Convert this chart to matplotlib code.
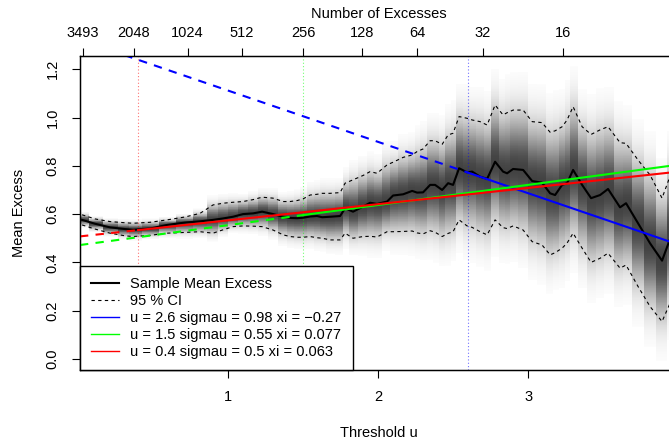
import numpy as np
import matplotlib
matplotlib.use('Agg')
import matplotlib.pyplot as plt
from matplotlib.lines import Line2D

plt.rcParams['font.family'] = ['Liberation Sans', 'DejaVu Sans']
plt.rcParams['font.size'] = 10.5

# thresholds u and the sample mean excess with its 95 % CI
u = [0.027, 0.113, 0.213, 0.313, 0.367, 0.48, 0.593, 0.713, 0.813, 0.9,
     0.967, 1.033, 1.1, 1.167, 1.227, 1.3, 1.367, 1.413, 1.46, 1.5,
     1.547, 1.593, 1.627, 1.68, 1.747, 1.78, 1.833, 1.9, 1.947, 1.993,
     2.06, 2.1, 2.167, 2.227, 2.26, 2.3, 2.347, 2.38, 2.427, 2.467,
     2.5, 2.54, 2.593, 2.627, 2.68, 2.727, 2.78, 2.833, 2.86, 2.9,
     2.967, 3.027, 3.093, 3.147, 3.18, 3.227, 3.26, 3.3, 3.36, 3.42,
     3.48, 3.533, 3.613, 3.653, 3.733, 3.813, 3.893, 3.96]
mean_excess = [0.576, 0.560, 0.545, 0.538, 0.535, 0.540, 0.555, 0.565, 0.570, 0.576,
               0.582, 0.589, 0.600, 0.603, 0.610, 0.600, 0.589, 0.584, 0.583, 0.585,
               0.590, 0.592, 0.587, 0.589, 0.592, 0.624, 0.610, 0.631, 0.647, 0.642,
               0.652, 0.677, 0.682, 0.696, 0.689, 0.690, 0.721, 0.721, 0.700, 0.728,
               0.721, 0.790, 0.773, 0.776, 0.755, 0.746, 0.817, 0.776, 0.769, 0.787,
               0.783, 0.737, 0.730, 0.686, 0.679, 0.721, 0.728, 0.783, 0.721, 0.666,
               0.679, 0.704, 0.628, 0.645, 0.562, 0.479, 0.407, 0.52]
ci_upper = [0.597, 0.580, 0.569, 0.564, 0.562, 0.566, 0.576, 0.588, 0.603, 0.638,
            0.645, 0.649, 0.652, 0.660, 0.670, 0.666, 0.652, 0.652, 0.656, 0.663,
            0.679, 0.682, 0.686, 0.686, 0.689, 0.728, 0.742, 0.760, 0.776, 0.769,
            0.804, 0.815, 0.835, 0.845, 0.859, 0.870, 0.904, 0.904, 0.889, 0.928,
            0.935, 1.004, 0.997, 0.990, 0.983, 0.969, 1.052, 1.011, 1.020, 1.031,
            1.031, 0.983, 0.979, 0.939, 0.945, 0.962, 0.990, 1.045, 0.962, 0.930,
            0.949, 0.962, 0.896, 0.893, 0.824, 0.762, 0.666, 0.78]
ci_lower = [0.555, 0.538, 0.521, 0.510, 0.507, 0.512, 0.521, 0.524, 0.527, 0.521,
            0.535, 0.548, 0.551, 0.550, 0.548, 0.534, 0.514, 0.507, 0.504, 0.504,
            0.507, 0.502, 0.500, 0.493, 0.493, 0.521, 0.500, 0.507, 0.508, 0.505,
            0.527, 0.527, 0.528, 0.530, 0.522, 0.518, 0.531, 0.525, 0.507, 0.520,
            0.527, 0.576, 0.551, 0.545, 0.527, 0.514, 0.576, 0.544, 0.540, 0.551,
            0.534, 0.486, 0.472, 0.431, 0.440, 0.459, 0.480, 0.521, 0.459, 0.400,
            0.417, 0.438, 0.376, 0.389, 0.300, 0.217, 0.155, 0.25]

# fitted GPD models: threshold, scale, shape
fit_u = [2.6, 1.5, 0.4]
fit_sigma = [0.98, 0.55, 0.5]
fit_xi = [-0.27, 0.077, 0.063]
fit_labels = ['u = 2.6 sigmau = 0.98 xi = \u22120.27',
              'u = 1.5 sigmau = 0.55 xi = 0.077',
              'u = 0.4 sigmau = 0.5 xi = 0.063']
fit_colors = ['#0000ff', '#00ff00', '#ff0000']

# top axis: number of excesses above threshold
top_counts = [3493, 2048, 1024, 512, 256, 128, 64, 32, 16]
top_u = [0.033, 0.37, 0.73, 1.09, 1.50, 1.89, 2.26, 2.70, 3.23]

xlim = (0.013, 4.0)
ylim = (-0.046, 1.255)

u_arr = np.array(u)
m_arr = np.array(mean_excess)
hi_arr = np.array(ci_upper)
lo_arr = np.array(ci_lower)

fig = plt.figure(figsize=(6.69, 4.41), dpi=100)
ax = fig.add_axes([0.1196, 0.161, 0.894, 0.712])

# grey density strips behind the curve
edges = np.concatenate([[u_arr[0] - (u_arr[1] - u_arr[0]) / 2],
                        (u_arr[:-1] + u_arr[1:]) / 2,
                        [u_arr[-1] + (u_arr[-1] - u_arr[-2]) / 2]])
y_edges = np.linspace(ylim[0], ylim[1], 501)
yy = (y_edges[:-1] + y_edges[1:]) / 2
sd_up = (hi_arr - m_arr) / 1.96
sd_dn = (m_arr - lo_arr) / 1.96
z = np.where(yy[:, None] >= m_arr[None, :],
             (yy[:, None] - m_arr[None, :]) / sd_up[None, :],
             (m_arr[None, :] - yy[:, None]) / sd_dn[None, :])
shade = 1 - 0.74 * np.exp(-0.5 * (z / 1.15) ** 2)
shade[shade > 0.985] = 1.0
ax.pcolormesh(edges, y_edges, shade, cmap='gray', vmin=0, vmax=1,
              shading='flat', zorder=0, rasterized=True)

ax.plot(u_arr, hi_arr, color='black', lw=0.8, ls=(0, (3, 3)), zorder=2)
ax.plot(u_arr, lo_arr, color='black', lw=0.8, ls=(0, (3, 3)), zorder=2)
ax.plot(u_arr, m_arr, color='black', lw=1.5, zorder=3)

for u0, sig, xi, col in zip(fit_u, fit_sigma, fit_xi, fit_colors):
    xs = np.linspace(xlim[0], u0, 50)
    ax.plot(xs, (sig + xi * (xs - u0)) / (1 - xi), color=col, lw=1.5,
            ls=(0, (4, 3.5)), zorder=4)
    xs = np.linspace(u0, xlim[1], 50)
    ax.plot(xs, (sig + xi * (xs - u0)) / (1 - xi), color=col, lw=1.5, zorder=4)
    ax.axvline(u0, color=col, lw=0.8, ls=(0, (1, 2)), alpha=0.55, zorder=1)

ax.set_xlim(*xlim)
ax.set_ylim(*ylim)
ax.set_xticks([1, 2, 3])
ax.set_yticks([0.0, 0.2, 0.4, 0.6, 0.8, 1.0, 1.2])
ax.set_yticklabels(['0.0', '0.2', '0.4', '0.6', '0.8', '1.0', '1.2'],
                   rotation=90, va='center')
ax.tick_params(direction='out', length=5.5, width=0.8, color='black')
ax.tick_params(axis='x', pad=9)
ax.tick_params(axis='y', pad=9)
ax.set_xlabel('Threshold u', labelpad=16)
ax.set_ylabel('Mean Excess', labelpad=14)
for s in ax.spines.values():
    s.set_linewidth(1.0)

ax2 = ax.twiny()
ax2.set_xlim(*xlim)
ax2.set_xticks(top_u)
ax2.set_xticklabels([str(c) for c in top_counts])
ax2.tick_params(direction='out', length=5.5, width=0.8, pad=6)
ax2.set_xlabel('Number of Excesses', labelpad=6)

handles = [Line2D([], [], color='black', lw=1.5),
           Line2D([], [], color='black', lw=0.8, ls=(0, (3, 3)))]
handles += [Line2D([], [], color=c, lw=1.0) for c in fit_colors]
labels = ['Sample Mean Excess', '95 % CI'] + fit_labels
leg = ax.legend(handles, labels, loc='lower left', borderaxespad=0,
                fancybox=False, framealpha=1, edgecolor='black',
                handlelength=1.9, handletextpad=0.8, labelspacing=0.2,
                borderpad=0.75)
leg.get_frame().set_linewidth(1.0)
leg.set_zorder(10)

fig.savefig('out.png', dpi=100)
